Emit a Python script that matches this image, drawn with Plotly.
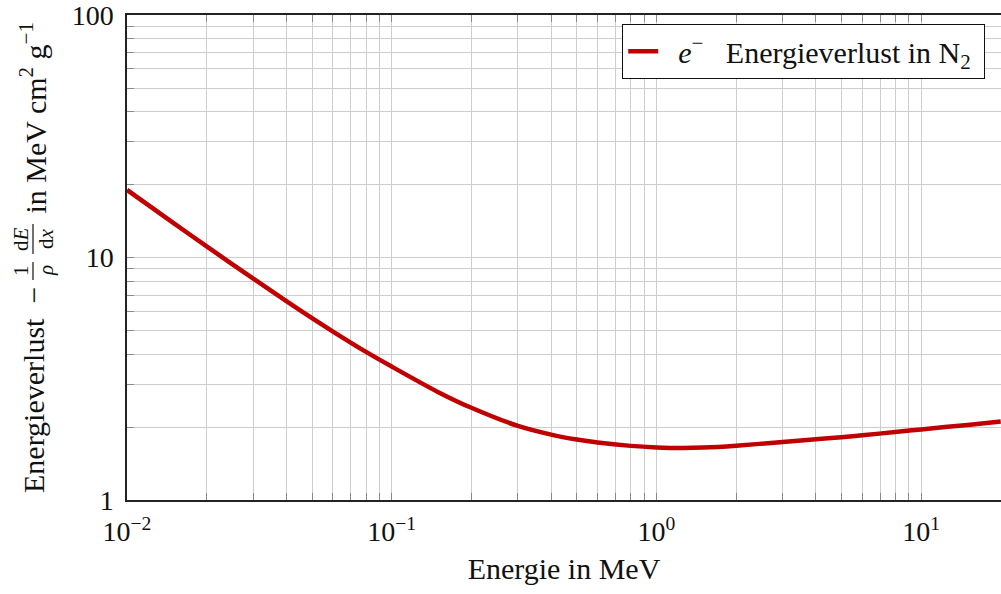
import plotly.graph_objects as go

# Electron stopping power in nitrogen (total mass stopping power, MeV cm^2/g)
energy_mev = [0.01, 0.015, 0.02, 0.03, 0.04, 0.05, 0.06, 0.08,
              0.1, 0.15, 0.2, 0.3, 0.4, 0.5, 0.6, 0.8, 1.0, 1.25, 1.5,
              2.0, 3.0, 4.0, 5.0, 6.0, 8.0, 10.0, 15.0, 20.0]
stopping_power = [19.0, 13.86, 11.11, 8.18, 6.61, 5.62, 4.95, 4.08,
                  3.55, 2.785, 2.40, 2.02, 1.86, 1.775, 1.725, 1.672, 1.648, 1.638, 1.645,
                  1.675, 1.735, 1.78, 1.815, 1.848, 1.908, 1.955, 2.04, 2.105]

x_tickvals = [0.01, 0.1, 1, 10]
x_ticktext = ["10<sup>−2</sup>", "10<sup>−1</sup>", "10<sup>0</sup>", "10<sup>1</sup>"]
y_tickvals = [1, 10, 100]
y_ticktext = ["1", "10", "100"]

NBSP = "\u00a0"
legend_name = (NBSP * 2 + "<i>e</i><sup>−</sup>" + NBSP * 3
               + "Energieverlust in N<sub>2</sub>" + NBSP)
x_title = "Energie in MeV"

FONT = "Liberation Serif, Times New Roman, serif"
FS_TICK = 28
FS_TEXT = 30
RED = "#c00000"
GRID = "#cdcdcd"
TICK = "#8a8a8a"
AXIS = "#222222"

W, H = 1001, 594
ML, MR, MT, MB = 127, 0, 15, 94


def minor_vals(lo_exp, hi_exp):
    vals = []
    for e in range(lo_exp, hi_exp + 1):
        for k in range(2, 10):
            vals.append(k * 10 ** e)
    return vals


fig = go.Figure()
fig.add_trace(go.Scatter(
    x=energy_mev, y=stopping_power, mode="lines", name=legend_name,
    line=dict(color=RED, width=4.5, shape="spline", smoothing=0.8),
))

axis_common = dict(
    type="log", showline=True, linecolor=AXIS, linewidth=1.5,
    ticks="inside", ticklen=7, tickcolor=TICK, tickwidth=1.3,
    showgrid=True, gridcolor=GRID, gridwidth=1, zeroline=False,
    tickfont=dict(family=FONT, size=FS_TICK, color="#111"),
    ticklabelstandoff=6, ticklabeloverflow="allow",
)

fig.update_xaxes(
    **axis_common,
    mirror="ticks",
    range=[-2, 1.3020],
    tickvals=x_tickvals, ticktext=x_ticktext,
    minor=dict(tickvals=minor_vals(-2, 1), ticks="inside", ticklen=7,
               tickcolor=TICK, tickwidth=1.3, showgrid=True, gridcolor=GRID, gridwidth=1),
    title=dict(text=x_title, font=dict(family=FONT, size=FS_TEXT, color="#111"), standoff=12),
)
fig.update_yaxes(
    **axis_common,
    mirror=False,
    range=[0, 2],
    tickvals=y_tickvals, ticktext=y_ticktext,
    minor=dict(tickvals=minor_vals(0, 1), ticks="inside", ticklen=7,
               tickcolor=TICK, tickwidth=1.3, showgrid=True, gridcolor=GRID, gridwidth=1),
)


# y-axis label built from rotated pieces so the fractions can be stacked
def px_note(text, xs, ys, size=FS_TEXT, yanchor="middle"):
    fig.add_annotation(
        text=text, xref="paper", yref="paper", x=0, y=0,
        xshift=xs - ML, yshift=(H - MB) - ys,
        xanchor="center", yanchor=yanchor, textangle=-90, showarrow=False,
        font=dict(family=FONT, size=size, color="#111"),
    )


def px_bar(xs, y0, y1):
    pw = W - ML - MR
    ph = H - MT - MB
    fig.add_shape(
        type="line", xref="paper", yref="paper",
        x0=(xs - ML) / pw, x1=(xs - ML) / pw,
        y0=((H - MB) - y0) / ph, y1=((H - MB) - y1) / ph,
        line=dict(color="#111", width=1.2),
    )


FS_FRAC = 21
px_note("Energieverlust  −", 33, 495, yanchor="bottom")
px_note("1", 21, 271, size=FS_FRAC)
px_note("<i>ρ</i>", 46, 271, size=FS_FRAC)
px_bar(33, 262, 280)
px_note("d<i>E</i>", 21, 239, size=FS_FRAC)
px_note("d<i>x</i>", 46, 239, size=FS_FRAC)
px_bar(33, 224, 254)
px_note("in MeV cm<sup>2</sup> g<sup>−1</sup>", 33, 216, yanchor="bottom")

fig.update_layout(
    width=W, height=H,
    margin=dict(l=ML, r=MR, t=MT, b=MB),
    paper_bgcolor="white", plot_bgcolor="white",
    font=dict(family=FONT, size=FS_TEXT, color="#111"),
    showlegend=True,
    legend=dict(
        x=(985 - ML) / (W - ML - MR), y=((H - MB) - 24) / (H - MT - MB),
        xanchor="right", yanchor="top",
        bgcolor="white", bordercolor="#111", borderwidth=1.2,
        font=dict(family=FONT, size=FS_TEXT, color="#111"),
    ),
)

fig.write_html("out.html")
